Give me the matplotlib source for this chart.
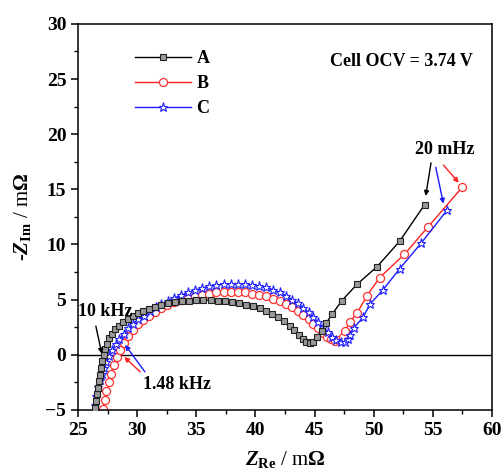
import matplotlib
matplotlib.use("Agg")
import matplotlib.pyplot as plt
from matplotlib.ticker import MultipleLocator

plt.rcParams['font.family'] = ['Liberation Serif', 'DejaVu Serif']
plt.rcParams['font.weight'] = 'bold'
plt.rcParams['mathtext.fontset'] = 'custom'
plt.rcParams['mathtext.rm'] = 'Liberation Serif:bold'
plt.rcParams['mathtext.it'] = 'Liberation Serif:bold:italic'
plt.rcParams['mathtext.bf'] = 'Liberation Serif:bold'

# Nyquist data (Z_Re, -Z_Im) in mOhm
a_re = [26.45, 26.55, 26.6, 26.65, 26.75, 26.85, 26.95, 27.05, 27.15, 27.3, 27.45, 27.65,
        27.9, 28.15, 28.45, 28.8, 29.2, 29.6, 30.05, 30.5, 31.0, 31.5, 32.0, 32.6, 33.2,
        33.8, 34.4, 35.0, 35.6, 36.2, 36.8, 37.4, 38.0, 38.6, 39.2, 39.8, 40.4, 40.9,
        41.4, 41.9, 42.4, 42.9, 43.3, 43.7, 44.0, 44.3, 44.6, 44.9, 45.2, 45.6, 46.0,
        46.5, 47.3, 48.6, 50.3, 52.2, 54.3]
a_im = [-4.8, -4.2, -3.6, -3.0, -2.4, -1.8, -1.2, -0.6, -0.05, 0.5, 1.0, 1.5,
        1.9, 2.3, 2.65, 2.95, 3.25, 3.5, 3.75, 3.95, 4.15, 4.35, 4.5, 4.65, 4.75,
        4.85, 4.9, 4.95, 4.95, 4.95, 4.9, 4.85, 4.8, 4.7, 4.55, 4.4, 4.2, 3.95,
        3.7, 3.4, 3.05, 2.65, 2.25, 1.8, 1.45, 1.15, 1.05, 1.2, 1.6, 2.2, 2.9,
        3.7, 4.9, 6.4, 8.0, 10.3, 13.6]

b_re = [27.1, 27.25, 27.4, 27.6, 27.8, 28.05, 28.3, 28.55, 28.85, 29.2, 29.6, 30.05,
        30.5, 31.0, 31.5, 32.0, 32.55, 33.1, 33.7, 34.3, 34.9, 35.5, 36.1, 36.7, 37.3,
        37.9, 38.5, 39.1, 39.7, 40.3, 40.9, 41.5, 42.05, 42.6, 43.1, 43.6, 44.05, 44.5,
        44.9, 45.3, 45.7, 46.05, 46.4, 46.75, 47.1, 47.4, 47.6, 48.0, 48.6, 49.4, 50.5,
        52.6, 54.6, 57.5]
b_im = [-4.9, -4.1, -3.3, -2.5, -1.7, -0.9, -0.2, 0.45, 1.1, 1.7, 2.25, 2.75,
        3.15, 3.55, 3.9, 4.2, 4.5, 4.75, 4.95, 5.15, 5.3, 5.45, 5.55, 5.65, 5.7,
        5.7, 5.7, 5.65, 5.55, 5.45, 5.3, 5.1, 4.9, 4.6, 4.3, 3.95, 3.6, 3.2,
        2.8, 2.4, 2.0, 1.65, 1.4, 1.25, 1.3, 1.6, 2.2, 3.0, 3.8, 5.3, 7.0,
        9.1, 11.6, 15.2]

c_re = [26.45, 26.55, 26.7, 26.85, 27.0, 27.2, 27.4, 27.65, 27.9, 28.2, 28.5, 28.85,
        29.25, 29.65, 30.1, 30.55, 31.05, 31.55, 32.05, 32.6, 33.15, 33.7, 34.3, 34.9,
        35.5, 36.1, 36.7, 37.3, 37.9, 38.5, 39.1, 39.7, 40.3, 40.9, 41.5, 42.05, 42.6,
        43.1, 43.6, 44.05, 44.5, 44.9, 45.3, 45.7, 46.1, 46.5, 46.85, 47.2, 47.55, 47.8,
        48.0, 48.3, 49.1, 49.7, 50.8, 52.2, 54.0, 56.2]
c_im = [-4.6, -3.7, -2.9, -2.3, -1.7, -1.2, -0.7, -0.15, 0.4, 0.95, 1.45, 1.9,
        2.4, 2.8, 3.2, 3.55, 3.95, 4.3, 4.6, 4.9, 5.15, 5.4, 5.65, 5.85,
        6.05, 6.2, 6.3, 6.4, 6.45, 6.45, 6.4, 6.35, 6.25, 6.1, 5.9, 5.65, 5.35,
        5.0, 4.65, 4.25, 3.85, 3.4, 2.95, 2.5, 2.05, 1.65, 1.35, 1.15, 1.15, 1.4,
        1.8, 2.4, 3.4, 4.6, 5.9, 7.8, 10.1, 13.1]

labels = ['A', 'B', 'C']
x_ticks = [25, 30, 35, 40, 45, 50, 55, 60]
y_ticks = [-5, 0, 5, 10, 15, 20, 25, 30]

fig = plt.figure(figsize=(5.04, 4.69), dpi=100)
ax = fig.add_axes([0.155, 0.126, 0.821, 0.823])

ax.axhline(0, color='black', lw=1.0, zorder=1)

ax.plot(a_re, a_im, '-', color='black', lw=1.0, marker='s', ms=4.0,
        mfc='#9a9a9a', mec='#222222', mew=0.8, label=labels[0], zorder=3)
ax.plot(b_re, b_im, '-', color='#ff2020', lw=1.0, marker='o', ms=5.8,
        mfc='white', mec='#ff3030', mew=0.9, label=labels[1], zorder=2)
ax.plot(c_re, c_im, '-', color='#1a1aff', lw=1.0, marker='*', ms=6.5,
        mfc='white', mec='#2020ff', mew=0.8, label=labels[2], zorder=2)

ax.set_xlim(25, 60)
ax.set_ylim(-5, 30)
ax.set_xticks(x_ticks)
ax.set_yticks(y_ticks)
ax.xaxis.set_minor_locator(MultipleLocator(2.5))
ax.yaxis.set_minor_locator(MultipleLocator(2.5))
ax.tick_params(which='major', direction='out', length=5, width=1.1, labelsize=14,
               top=False, right=False)
ax.tick_params(which='minor', direction='out', length=3, width=1.0,
               top=False, right=False)
for lab in ax.get_xticklabels() + ax.get_yticklabels():
    lab.set_fontweight('bold')
for sp in ax.spines.values():
    sp.set_linewidth(1.1)

ax.set_xlabel(r'$Z_{\mathrm{Re}}$ / m$\Omega$', fontsize=15, labelpad=7.5)
ax.set_ylabel(r'-$Z_{\mathrm{Im}}$ / m$\Omega$', fontsize=15, labelpad=9)

leg = ax.legend(loc='upper left', bbox_to_anchor=(0.138, 0.932), frameon=False,
                fontsize=13, handlelength=3.1, handletextpad=0.3,
                labelspacing=0.45, borderpad=0, borderaxespad=0)
for t in leg.get_texts():
    t.set_fontweight('bold')

ax.text(58.4, 26.6, 'Cell OCV = 3.74 V', fontsize=13, fontweight='bold',
        ha='right', va='center')

# frequency markers
arrow = dict(arrowstyle='-|>', lw=1.0, mutation_scale=7, shrinkA=0, shrinkB=0)
ax.text(25.0, 3.9, '10 kHz', fontsize=13, fontweight='bold', ha='left', va='center')
ax.annotate('', xy=(27.0, 0.1), xytext=(26.5, 2.6),
            arrowprops=dict(arrow, color='black'))

ax.text(30.5, -2.7, '1.48 kHz', fontsize=13, fontweight='bold', ha='left', va='center')
ax.annotate('', xy=(28.9, -0.2), xytext=(30.25, -1.55),
            arrowprops=dict(arrow, color='#ff2020'))
ax.annotate('', xy=(28.97, 0.9), xytext=(30.65, -1.55),
            arrowprops=dict(arrow, color='#1a1aff'))

ax.text(56.0, 18.6, '20 mHz', fontsize=13, fontweight='bold', ha='center', va='center')
ax.annotate('', xy=(54.4, 14.4), xytext=(54.85, 17.4),
            arrowprops=dict(arrow, color='black'))
ax.annotate('', xy=(55.9, 13.7), xytext=(55.25, 17.0),
            arrowprops=dict(arrow, color='#1a1aff'))
ax.annotate('', xy=(57.2, 15.6), xytext=(55.9, 17.2),
            arrowprops=dict(arrow, color='#ff2020'))

fig.savefig('out.png', dpi=100)
